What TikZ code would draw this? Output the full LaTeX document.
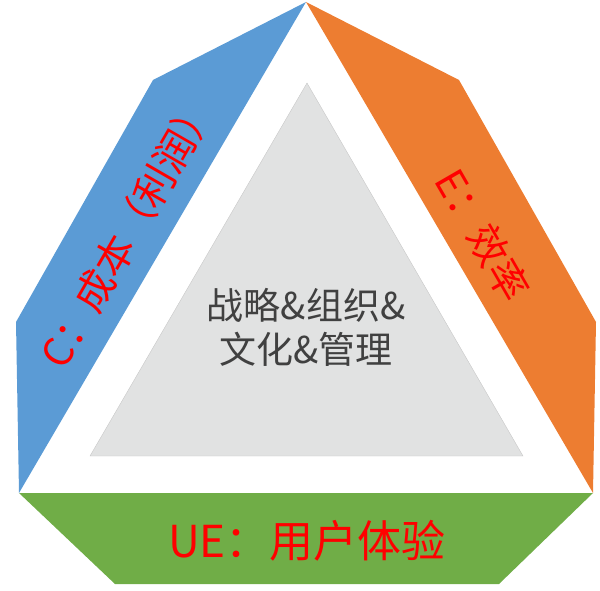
\documentclass[tikz,border=0pt]{standalone}
\usepackage{fontspec}
\setmainfont{Noto Sans CJK SC}
\definecolor{costblue}{HTML}{5B9BD5}
\definecolor{efforange}{HTML}{ED7D31}
\definecolor{uegreen}{HTML}{70AD47}
\definecolor{coregray}{HTML}{E1E2E2}
\definecolor{coreline}{HTML}{C8C8C8}
\definecolor{coretext}{HTML}{404040}

\begin{document}
\begin{tikzpicture}
  [x=1pt,y=-1pt,
   side/.style={font=\fontsize{40}{48}\selectfont,text=red,inner sep=0pt},
   core/.style={font=\fontsize{37}{44}\selectfont,text=coretext,align=center,inner sep=0pt}]
  \useasboundingbox (0,0) rectangle (600,591);
  \coordinate (top) at (306,2);
  \coordinate (bl) at (19,493);
  \coordinate (br) at (593,493);
  % outer bands
  \fill[costblue] (top) -- (153,80) -- (16,322) -- (bl) -- cycle;
  \fill[efforange] (top) -- (459,80) -- (596,322) -- (br) -- cycle;
  \fill[uegreen] (bl) -- (br) -- (499,584) -- (115,584) -- cycle;
  % inner triangle
  \draw[coreline,fill=coregray] (307,83) -- (523,456) -- (90,456) -- cycle;
  \node[side,rotate=60] (c) at (128,232) {C：成本（利润）};
  \node[side,rotate=-60] (e) at (483,235) {E：效率};
  \node[side,font=\fontsize{44}{52}\selectfont] (ue) at (307,541) {UE：用户体验};
  \node[core] (core) at (306,327) {战略\&组织\&\\文化\&管理};
\end{tikzpicture}
\end{document}
